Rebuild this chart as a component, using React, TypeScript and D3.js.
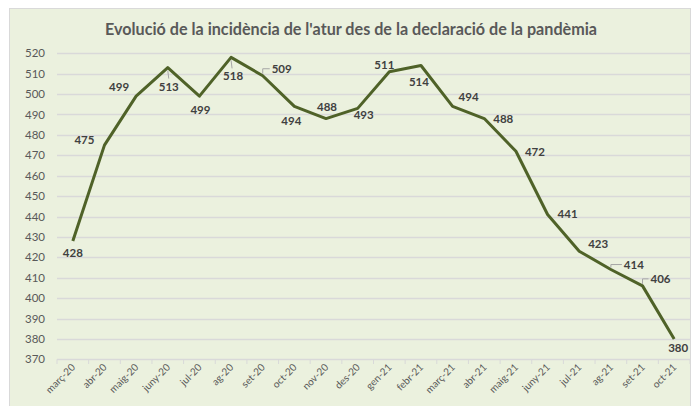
import React from "react";
import * as d3 from "d3";

const categories = ["març-20","abr-20","maig-20","juny-20","jul-20","ag-20","set-20","oct-20","nov-20","des-20","gen-21","febr-21","març-21","abr-21","maig-21","juny-21","jul-21","ag-21","set-21","oct-21"];
const values = [428,475,499,513,499,518,509,494,488,493,511,514,494,488,472,441,423,414,406,380];
const yTicks = [370,380,390,400,410,420,430,440,450,460,470,480,490,500,510,520];
// label offsets relative to each point (dx, dy) and whether a leader line is drawn
const labelDx = [0,-20,-17,1,1,2,19,-3,1,6,-5,-2,16,19,19,20,19,23,18,4];
const labelDy = [12,-5,-9,19,14,19,-7,15,-12,7,-7,16,-9,0,1,0,-7,-5,-7,9];
const leader = [false,false,false,true,false,true,true,false,false,false,false,false,false,false,false,false,false,true,true,false];

const title = "Evolució de la incidència de l'atur des de la declaració de la pandèmia";

const W = 696, H = 406;
const margin = { left: 57, right: 6, top: 53, bottom: 47 };

export default function App() {
  const x = d3.scaleBand<string>().domain(categories).range([57, 690]);
  const y = d3.scaleLinear().domain([370, 520]).range([359.3, 53.3]);
  const cx = (c: string) => (x(c) as number) + x.bandwidth() / 2;
  const line = d3.line<number>().x((_, i) => cx(categories[i])).y((v) => y(v));
  const font = "Lato, 'Open Sans', sans-serif";
  const edges = categories.map((c) => x(c) as number).concat([690]);

  return (
    <svg width={W} height={H} style={{ position: "absolute", left: 0, top: 0, display: "block" }}>
      <rect x={0} y={0} width={W} height={H} fill="#ffffff" />
      <rect x={9.5} y={8.5} width={681} height={400} fill="#EBF1DE" stroke="#D9D9D9" strokeWidth={1} />
      <text x={351} y={35} textAnchor="middle" fontFamily={font} fontWeight={700} fontSize={17} fill="#595959" textLength={492} lengthAdjust="spacingAndGlyphs">{title}</text>
      {yTicks.map((t) => (
        <g key={t}>
          <line x1={57} x2={690} y1={Math.round(y(t)) + 0.5} y2={Math.round(y(t)) + 0.5} stroke="#D9D9D9" strokeWidth={1.3} />
          <text x={45} y={y(t) + 4} textAnchor="end" fontFamily={font} fontSize={11.5} fill="#595959">{t}</text>
        </g>
      ))}
      {edges.map((e, i) => (
        <line key={i} x1={e} x2={e} y1={359.3} y2={364} stroke="#D9D9D9" strokeWidth={1} />
      ))}
      {categories.map((c) => (
        <text key={c} transform={`translate(${cx(c) + 3},${368}) rotate(-45)`} textAnchor="end" fontFamily={font} fontSize={10} fill="#595959">{c}</text>
      ))}
      <path d={line(values) || ""} fill="none" stroke="#4F6228" strokeWidth={3} strokeLinejoin="round" />
      {values.map((v, i) => {
        const px = cx(categories[i]);
        const py = y(v);
        const lx = px + labelDx[i];
        const ly = py + labelDy[i];
        let lead = null;
        if (leader[i]) {
          if (labelDy[i] > 0) {
            lead = <line x1={px} y1={py + 3} x2={px + 1} y2={ly - 8} stroke="#A6A6A6" strokeWidth={1} />;
          } else {
            lead = <path d={`M${px},${py - 2}V${ly}H${lx - 12}`} fill="none" stroke="#A6A6A6" strokeWidth={1} />;
          }
        }
        return (
          <g key={i}>
            {lead}
            <text x={lx} y={ly + 4} textAnchor="middle" fontFamily={font} fontWeight={700} fontSize={11.5} fill="#404040">{v}</text>
          </g>
        );
      })}
    </svg>
  );
}
